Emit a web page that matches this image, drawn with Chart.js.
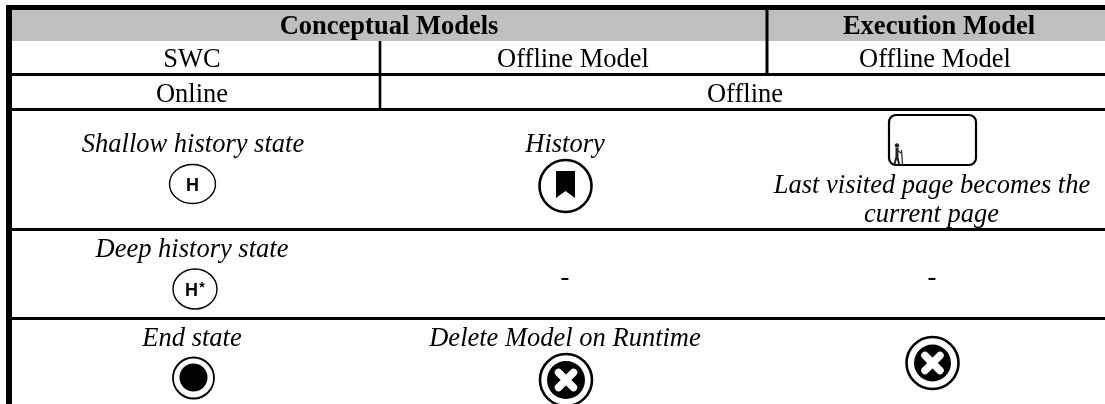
<!DOCTYPE html>
<html><head><meta charset="utf-8">
<script src="https://cdn.jsdelivr.net/npm/chart.js@4"></script>
<style>html,body{margin:0;padding:0;background:#fff}#w{width:1105px;height:404px;overflow:hidden}canvas{display:block}</style>
</head><body><div id="w"><canvas id="c" width="1105" height="404"></canvas></div>
<script>
const headers = [["Conceptual Models",389],["Execution Model",939]];
const modelRow = [["SWC",192],["Offline Model",573],["Offline Model",935]];
const modeRow = [["Online",192],["Offline",745]];
const italicLines = [
 ["Shallow history state",193,151.5],["History",565,151.5],
 ["Last visited page becomes the",932,192.5],["current page",931.5,222],
 ["Deep history state",192,257],["-",565,285],["-",932,285],
 ["End state",192,345.5],["Delete Model on Runtime",565,345.5]];
const hRules = [[12,1105,7.5,5],[12,1105,74.5,3],[12,1105,109.5,3],[12,1105,229.5,3],[12,1105,318.5,3]];
const vRules = [[9,5,404,6],[380,41,110,2.6],[767,10,73,3]];
const historyIcons = [["H",192.5,184,23,19.5],["H*",195,289,22,20]];

const toLine = (r) => ({data:[{x:r[0],y:r[2]},{x:r[1],y:r[2]}],borderWidth:r[3]});
const toVLine = (r) => ({data:[{x:r[0],y:r[1]},{x:r[0],y:r[2]}],borderWidth:r[3]});
const datasets = [...hRules.map(toLine),...vRules.map(toVLine)].map(d=>Object.assign(d,{showLine:true,borderColor:'#000',pointRadius:0,borderCapStyle:'butt'}));

const tablePlugin = {
 id:'table',
 beforeDatasetsDraw(ch){
  const {ctx,scales:{x,y}}=ch;
  ctx.fillStyle='#bfbfbf';
  ctx.fillRect(x.getPixelForValue(12),y.getPixelForValue(10),x.getPixelForValue(1105)-x.getPixelForValue(12),31);
 },
 afterDatasetsDraw(ch){
  const {ctx,scales:{x,y}}=ch;
  const X=v=>x.getPixelForValue(v),Y=v=>y.getPixelForValue(v);
  ctx.save();ctx.filter='blur(0.4px)';ctx.textAlign='center';ctx.textBaseline='alphabetic';ctx.fillStyle='#000';
  const serif='"Liberation Serif","Times New Roman",serif';
  ctx.font='bold 26.5px '+serif;headers.forEach(h=>ctx.fillText(h[0],X(h[1]),Y(34)));
  ctx.font='26.5px '+serif;modelRow.forEach(h=>ctx.fillText(h[0],X(h[1]),Y(67)));
  modeRow.forEach(h=>ctx.fillText(h[0],X(h[1]),Y(102)));
  ctx.font='italic 26.5px '+serif;italicLines.forEach(h=>ctx.fillText(h[0],X(h[1]),Y(h[2])));
  // H badges
  historyIcons.forEach(i=>{
   ctx.beginPath();ctx.ellipse(X(i[1]),Y(i[2]),i[3],i[4],0,0,Math.PI*2);ctx.lineWidth=1.4;ctx.strokeStyle='#000';ctx.stroke();
   ctx.font='bold 18px "Liberation Sans",Arial,sans-serif';
   ctx.fillText('H',X(i[1])-(i[0]==='H'?0:3.5),Y(i[2])+6.5);
   if(i[0]!=='H'){ctx.font='bold 14px "Liberation Sans",sans-serif';ctx.fillText('*',X(i[1])+7,Y(i[2])+3);}
  });
  // bookmark in ring
  ctx.beginPath();ctx.arc(X(565.5),Y(186),26,0,Math.PI*2);ctx.lineWidth=2.6;ctx.stroke();
  ctx.beginPath();ctx.moveTo(X(556),Y(171));ctx.lineTo(X(575),Y(171));ctx.lineTo(X(575),Y(198));ctx.lineTo(X(565.5),Y(191));ctx.lineTo(X(556),Y(198));ctx.closePath();ctx.fill();
  // page rectangle with walker
  ctx.beginPath();ctx.roundRect(X(889),Y(115),87,50,7);ctx.lineWidth=2.2;ctx.stroke();
  ctx.fillStyle='#222';ctx.beginPath();ctx.arc(X(897),Y(145.5),2.2,0,Math.PI*2);ctx.fill();
  ctx.lineWidth=3;ctx.strokeStyle='#222';ctx.beginPath();ctx.moveTo(X(897),Y(148));ctx.lineTo(X(897),Y(156));ctx.stroke();
  ctx.lineWidth=2;ctx.beginPath();ctx.moveTo(X(897),Y(155));ctx.lineTo(X(894.5),Y(164));ctx.moveTo(X(897),Y(155));ctx.lineTo(X(899),Y(164));ctx.stroke();
  ctx.lineWidth=1.2;ctx.beginPath();ctx.moveTo(X(897),Y(150));ctx.lineTo(X(901),Y(153));ctx.moveTo(X(901.5),Y(150));ctx.lineTo(X(902.5),Y(165));ctx.stroke();
  ctx.fillStyle='#000';ctx.strokeStyle='#000';
  // end state
  ctx.beginPath();ctx.arc(X(193.5),Y(378),20.5,0,Math.PI*2);ctx.lineWidth=1.8;ctx.stroke();
  ctx.beginPath();ctx.arc(X(193.5),Y(377.5),14,0,Math.PI*2);ctx.fill();
  // delete badges
  [[566,380,19],[932.5,363,18.5]].forEach(b=>{
   const cx=X(b[0]),cy=Y(b[1]);
   ctx.beginPath();ctx.arc(cx,cy,26,0,Math.PI*2);ctx.lineWidth=2.6;ctx.strokeStyle='#000';ctx.stroke();
   ctx.beginPath();ctx.arc(cx,cy,b[2],0,Math.PI*2);ctx.fillStyle='#000';ctx.fill();
   ctx.strokeStyle='#fff';ctx.lineWidth=7.5;ctx.lineCap='round';ctx.beginPath();
   ctx.moveTo(cx-7.5,cy-7.5);ctx.lineTo(cx+7.5,cy+7.5);ctx.moveTo(cx+7.5,cy-7.5);ctx.lineTo(cx-7.5,cy+7.5);ctx.stroke();ctx.lineCap='butt';
  });
  ctx.restore();
 }
};
new Chart(document.getElementById('c'),{type:'scatter',data:{datasets},plugins:[tablePlugin],options:{
 responsive:false,animation:false,layout:{padding:0},
 plugins:{legend:{display:false},tooltip:{enabled:false}},
 scales:{x:{type:'linear',display:false,min:0,max:1105},y:{type:'linear',display:false,min:0,max:404,reverse:true}}
}});
</script></body></html>
